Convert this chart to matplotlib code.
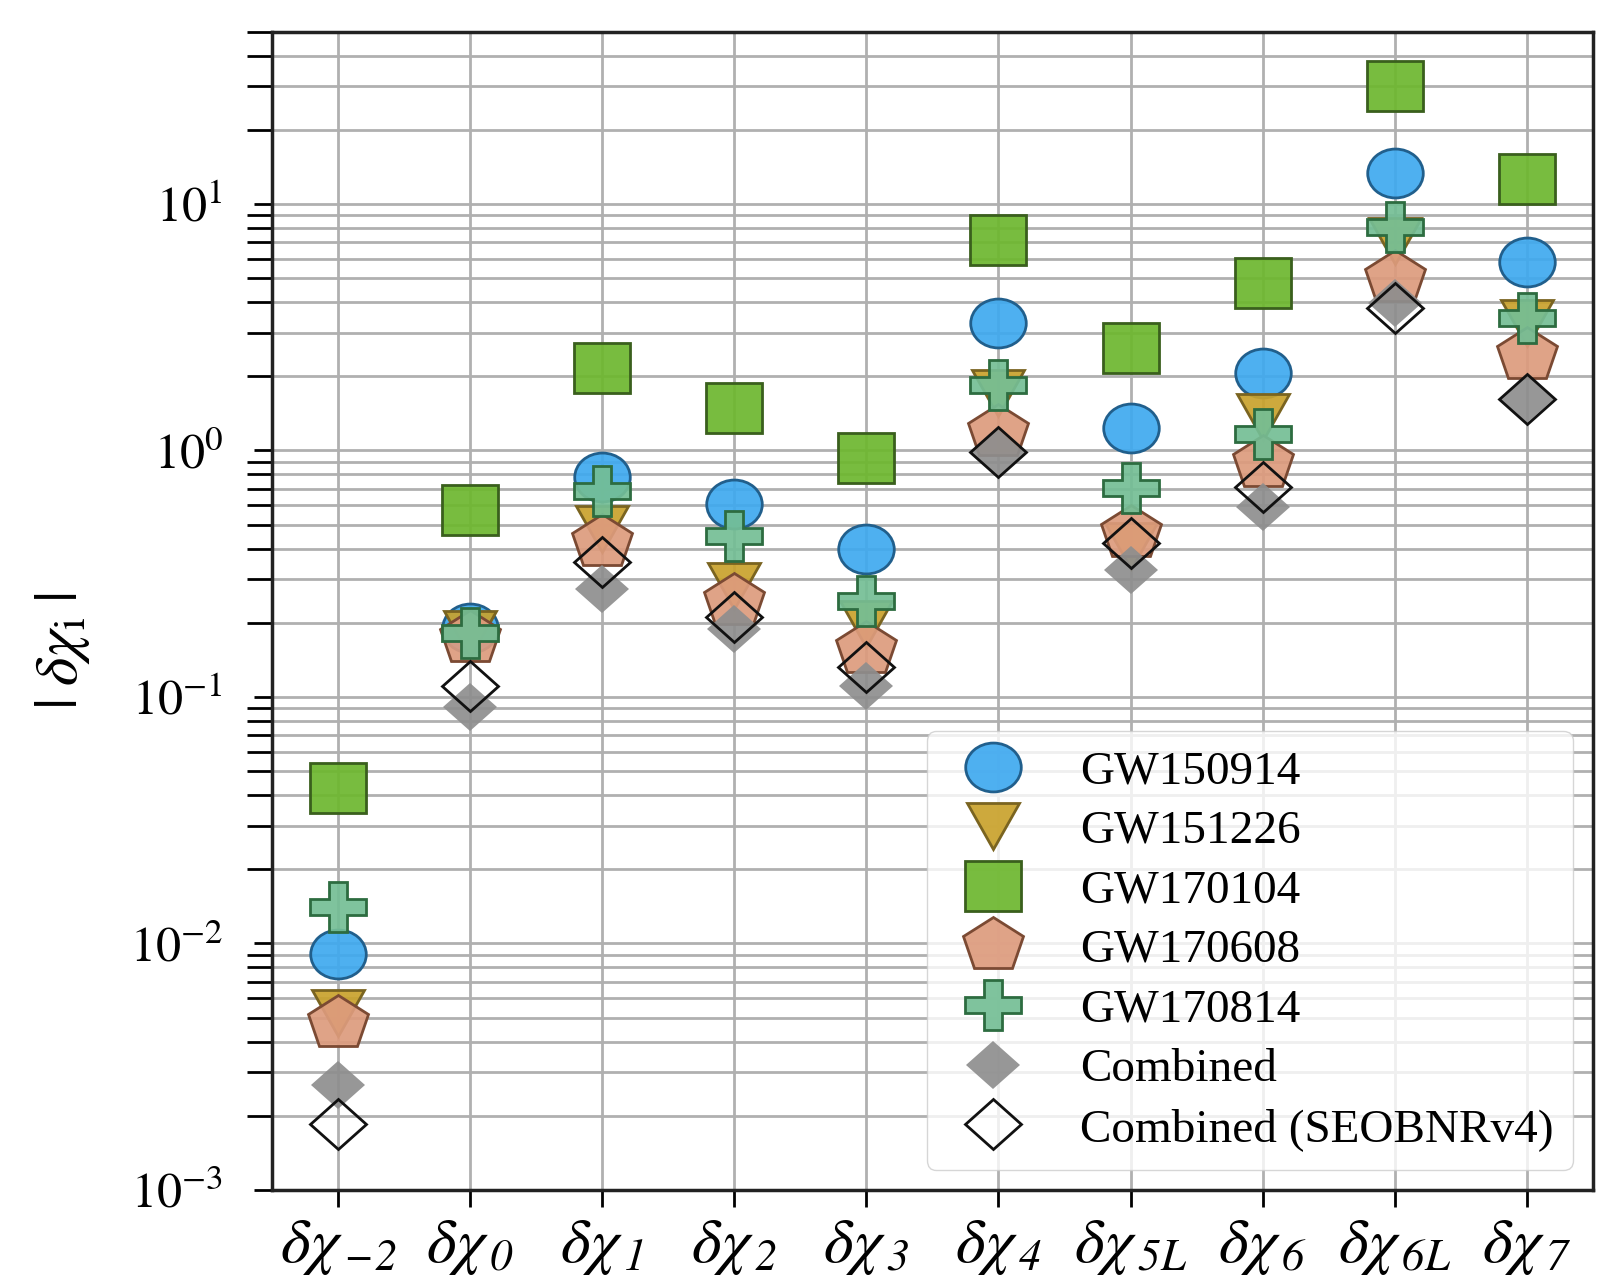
import numpy as np
import matplotlib
matplotlib.use('Agg')
import matplotlib.pyplot as plt
from matplotlib.markers import MarkerStyle
from matplotlib.transforms import Affine2D
from matplotlib.colors import to_rgba

plt.rcParams['font.family'] = ['Liberation Serif', 'DejaVu Serif']
plt.rcParams['mathtext.fontset'] = 'custom'
plt.rcParams['mathtext.rm'] = 'STIXGeneral'
plt.rcParams['mathtext.it'] = 'STIXGeneral:italic'
# italic digits in the subscripts: 'it' would force digits upright, so use the sf slot
plt.rcParams['mathtext.sf'] = 'STIXGeneral:italic'

# parameters on the x axis
params = ['-2', '0', '1', '2', '3', '4', '5L', '6', '6L', '7']
xlabels = [r'$\delta\chi_{\,\mathsf{%s}}$' % p for p in params]

# |delta chi_i| bounds per event
gw150914 = [0.0091, 0.19, 0.78, 0.605, 0.398, 3.28, 1.23, 2.06, 13.3, 5.83]
gw151226 = [0.0052, 0.18, 0.48, 0.283, 0.198, 1.71, 0.41, 1.37, 7.1, 3.3]
gw170104 = [0.0426, 0.574, 2.16, 1.49, 0.935, 7.14, 2.60, 4.80, 30.0, 12.6]
gw170608 = [0.00475, 0.173, 0.425, 0.246, 0.157, 1.19, 0.461, 0.887, 5.0, 2.44]
gw170814 = [0.0141, 0.181, 0.685, 0.45, 0.246, 1.84, 0.703, 1.17, 8.09, 3.44]
combined = [0.00266, 0.0914, 0.274, 0.189, 0.111, 0.974, 0.327, 0.591, 3.95, 1.61]
combined_seob = [0.00185, 0.111, 0.352, 0.211, 0.132, 0.99, 0.42, 0.713, 3.8, 1.61]

names = ['GW150914', 'GW151226', 'GW170104', 'GW170608', 'GW170814',
         'Combined', 'Combined (SEOBNRv4)']
series = [gw150914, gw151226, gw170104, gw170608, gw170814, combined, combined_seob]

squash = Affine2D().scale(1, 0.88)  # the picture is a bit flattened
styles = [
    # marker, size, face, edge
    ('o', 40, '#3fa9ef', '#215f8c'),
    ('v', 38, '#c9a22c', '#7a6420'),
    ('s', 41, '#6db72e', '#3a5f1d'),
    ('p', 46, '#dd9b7d', '#7b4a33'),
    ('P', 41, '#74be95', '#2d6c40'),
    ('D', 28, '#8e8e8e', 'none'),
    ('D', 29, 'none', '#111111'),
]

fig = plt.figure(figsize=(16.15, 12.86), dpi=100)
ax = fig.add_axes([0.1682, 0.0747, 0.8182, 0.9007])

x = np.arange(len(params))
for vals, name, (m, size, fc, ec) in zip(series, names, styles):
    face = 'none' if fc == 'none' else to_rgba(fc, 0.92)
    ax.plot(x, vals, ls='none', marker=MarkerStyle(m, transform=squash),
            ms=size, mfc=face, mec=ec, mew=2.0 if ec != 'none' else 0,
            label=name)

ax.set_yscale('log')
ax.set_ylim(1e-3, 50)
ax.set_xlim(-0.5, 9.5)
ax.set_xticks(x)
ax.set_xticklabels(xlabels, fontsize=46)
ax.set_yticks([1e-3, 1e-2, 1e-1, 1e0, 1e1])
ax.set_yticklabels([r'$10^{-3}$', r'$10^{-2}$', r'$10^{-1}$', r'$10^{0}$', r'$10^{1}$'],
                   fontsize=36)
ax.yaxis.set_minor_locator(matplotlib.ticker.LogLocator(base=10, subs=np.arange(2, 10)))
ax.yaxis.set_minor_formatter(matplotlib.ticker.NullFormatter())

ax.grid(True, which='both', color='#b0b0b0', lw=2.0)
ax.set_axisbelow(True)
ax.tick_params(axis='y', which='major', length=13, width=2, pad=22, direction='out')
ax.tick_params(axis='y', which='minor', length=18, width=2, direction='out')
ax.tick_params(axis='x', which='major', length=12, width=2, pad=8, direction='out')
for s in ax.spines.values():
    s.set_linewidth(2.5)
    s.set_color('#222222')

ax.set_ylabel(r'$|\;\delta\chi_{\mathrm{i}}\;|$', fontsize=44)
ax.yaxis.set_label_coords(-0.136, 0.465)

ax.legend(loc='lower right', fontsize=34, handlelength=2.0, handletextpad=0.85,
          labelspacing=0.35, borderaxespad=0.43, borderpad=0.4, numpoints=1)

fig.savefig('out.png', dpi=100)
